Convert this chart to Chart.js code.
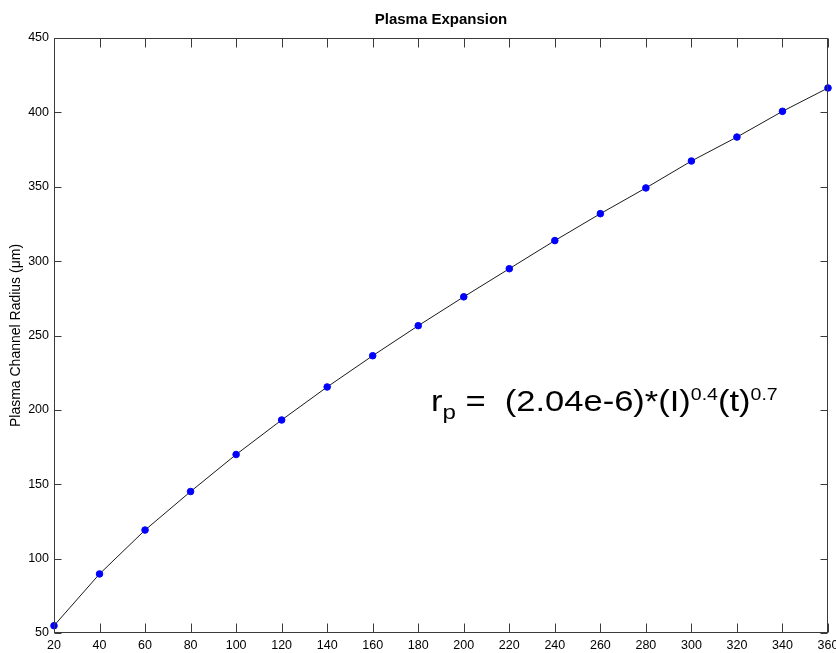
<!DOCTYPE html>
<html>
<head>
<meta charset="utf-8">
<script src="https://cdn.jsdelivr.net/npm/chart.js@4/dist/chart.umd.min.js"></script>
<style>
html,body{margin:0;padding:0;background:#fff;}
#wrap{width:836px;height:653px;}
</style>
</head>
<body>
<div id="wrap"><canvas id="c" width="836" height="653"></canvas></div>
<script>
// Data
const timeValues = [20, 40, 60, 80, 100, 120, 140, 160, 180, 200, 220, 240, 260, 280, 300, 320, 340, 360];
const radiusValues = [54.9, 89.7, 119.2, 145.1, 170.0, 193.2, 215.4, 236.4, 256.6, 276.0, 294.9, 313.8, 331.9, 349.2, 367.3, 383.4, 400.7, 416.4];
const chartTitle = 'Plasma Expansion';
const yAxisTitle = 'Plasma Channel Radius (\u03bcm)';
const xRange = [20, 360];
const yRange = [50, 450];

const FONT = "'Liberation Sans', Arial, Helvetica, sans-serif";

const boxAndTicks = {
  id: 'boxAndTicks',
  afterDatasetsDraw(chart) {
    const {ctx, chartArea: a, scales} = chart;
    const L = Math.round(a.left) + 0.5, R = Math.round(a.right) - 0.5;
    const T = Math.round(a.top) + 0.5, B = Math.round(a.bottom) - 0.5;
    ctx.save();
    ctx.strokeStyle = '#3a3a3a';
    ctx.lineWidth = 1;
    ctx.beginPath();
    scales.x.ticks.forEach(t => {
      const px = Math.round(scales.x.getPixelForValue(t.value)) + 0.5;
      ctx.moveTo(px, B); ctx.lineTo(px, B - 9);
      ctx.moveTo(px, T); ctx.lineTo(px, T + 9);
    });
    scales.y.ticks.forEach(t => {
      const py = Math.round(scales.y.getPixelForValue(t.value)) + 0.5;
      ctx.moveTo(L, py); ctx.lineTo(L + 7, py);
      ctx.moveTo(R, py); ctx.lineTo(R - 7, py);
    });
    ctx.stroke();
    ctx.strokeRect(L, T, R - L, B - T);
    ctx.restore();
  }
};

const formula = {
  id: 'formula',
  afterDraw(chart) {
    const ctx = chart.ctx;
    const sx = 1.15;
    const x0 = 431, base = 411;
    const parts = [
      {t: 'r', f: 30, dy: 0},
      {t: 'p', f: 21, dy: 8},
      {t: ' =  ', f: 30, dy: 0},
      {t: '(2.04e-6)*(I)', f: 30, dy: 0},
      {t: '0.4', f: 17, dy: -11},
      {t: '(t)', f: 30, dy: 0},
      {t: '0.7', f: 17, dy: -11}
    ];
    ctx.save();
    ctx.fillStyle = '#000';
    ctx.textBaseline = 'alphabetic';
    ctx.textAlign = 'left';
    ctx.translate(x0, base);
    ctx.scale(sx, 1);
    let x = 0;
    parts.forEach(p => {
      ctx.font = p.f + 'px ' + FONT;
      ctx.fillText(p.t, x, p.dy);
      x += ctx.measureText(p.t).width;
    });
    ctx.restore();
  }
};

new Chart(document.getElementById('c'), {
  type: 'line',
  data: {
    datasets: [{
      data: timeValues.map((t, i) => ({x: t, y: radiusValues[i]})),
      borderColor: '#1a1a1a',
      borderWidth: 1,
      pointStyle: 'circle',
      pointRadius: 3.3,
      pointBackgroundColor: '#0000ff',
      pointBorderColor: '#0000ff',
      pointBorderWidth: 1,
      tension: 0,
      clip: false
    }]
  },
  options: {
    responsive: false,
    animation: false,
    devicePixelRatio: 1,
    layout: {padding: {left: 0, right: 8, top: 0, bottom: 0}},
    plugins: {
      legend: {display: false},
      tooltip: {enabled: false},
      title: {
        display: true,
        text: chartTitle,
        fullSize: false,
        color: '#000',
        font: {family: FONT, size: 15, weight: 'bold'},
        padding: {top: 11, bottom: 9}
      }
    },
    scales: {
      x: {
        type: 'linear',
        min: xRange[0], max: xRange[1],
        grid: {display: false, drawTicks: false},
        border: {display: false},
        ticks: {stepSize: 20, color: '#000', padding: 5, maxRotation: 0, autoSkip: false,
                font: {family: FONT, size: 12.5}},
        afterFit(s) { s.height = 20; s.paddingLeft = 0; s.paddingRight = 0; }
      },
      y: {
        type: 'linear',
        min: yRange[0], max: yRange[1],
        grid: {display: false, drawTicks: false},
        border: {display: false},
        ticks: {stepSize: 50, color: '#000', padding: 5, font: {family: FONT, size: 12.5}},
        title: {display: true, text: yAxisTitle, color: '#000',
                font: {family: FONT, size: 14}, padding: {top: 8, bottom: 0}},
        afterFit(s) { s.width = 54; s.paddingTop = 0; s.paddingBottom = 0; }
      }
    }
  },
  plugins: [boxAndTicks, formula]
});
</script>
</body>
</html>
